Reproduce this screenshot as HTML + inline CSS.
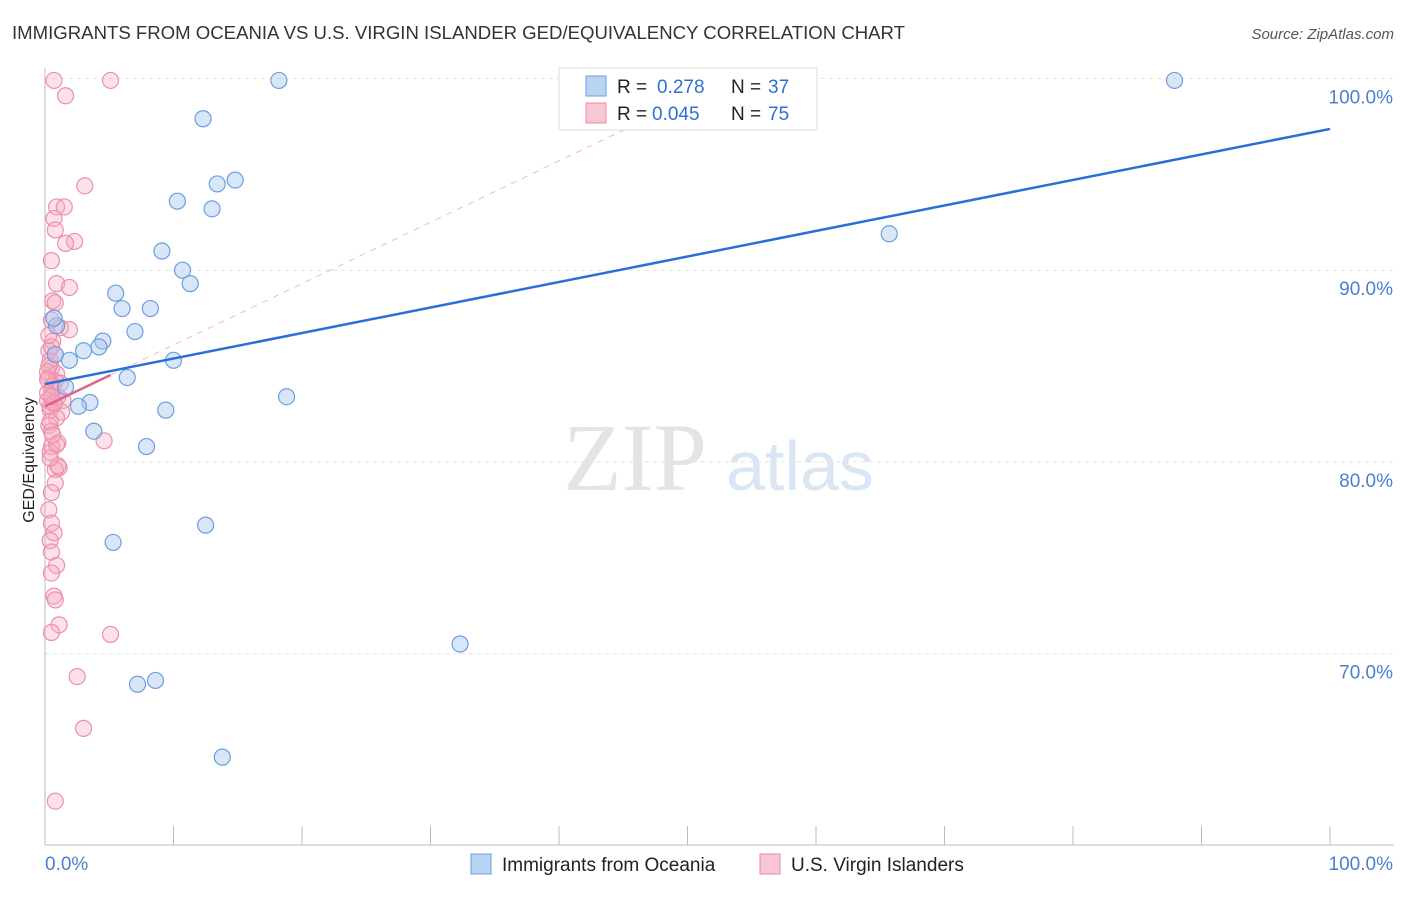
<!DOCTYPE html>
<html><head><meta charset="utf-8">
<style>
body{margin:0;background:#fff;font-family:"Liberation Sans",sans-serif;}
#wrap{position:relative;width:1406px;height:892px;}
</style></head>
<body><div id="wrap">
<svg id="svg" width="1406" height="892" xmlns="http://www.w3.org/2000/svg">
<text x="12" y="39" font-size="18" fill="#333" textLength="893" lengthAdjust="spacingAndGlyphs">IMMIGRANTS FROM OCEANIA VS U.S. VIRGIN ISLANDER GED/EQUIVALENCY CORRELATION CHART</text>
<text x="1394" y="39" font-size="15" fill="#555" font-style="italic" text-anchor="end">Source: ZipAtlas.com</text>
<text x="0" y="0" transform="translate(34,460) rotate(-90)" font-size="16" fill="#222" text-anchor="middle">GED/Equivalency</text>
<g><text x="635" y="490" font-size="96" fill="#e4e4e4" font-family="Liberation Serif" text-anchor="middle">ZIP</text><text x="800" y="490" font-size="70" fill="#dbe6f5" text-anchor="middle">atlas</text></g>
<g id="grid"></g><g id="axes"></g><g id="pts"></g><g id="lines"></g>
<g>
<rect x="559" y="68" width="258" height="62" fill="#fff" stroke="#ddd"/>
<rect x="586" y="76" width="20" height="20" fill="#b9d3f3" stroke="#6a9fe0"/>
<text x="617" y="93" font-size="19" fill="#222">R =</text><text x="657" y="93" font-size="19" fill="#2f6fd1">0.278</text>
<text x="731" y="93" font-size="19" fill="#222">N =</text><text x="768" y="93" font-size="19" fill="#2f6fd1">37</text>
<rect x="586" y="103" width="20" height="20" fill="#f9c7d4" stroke="#e88aa5"/>
<text x="617" y="120" font-size="19" fill="#222">R =</text><text x="652" y="120" font-size="19" fill="#2f6fd1">0.045</text>
<text x="731" y="120" font-size="19" fill="#222">N =</text><text x="768" y="120" font-size="19" fill="#2f6fd1">75</text>
</g>
<g>
<rect x="471" y="854" width="20" height="20" fill="#b9d3f3" stroke="#6a9fe0"/>
<text x="502" y="871" font-size="19" fill="#222">Immigrants from Oceania</text>
<rect x="760" y="854" width="20" height="20" fill="#f9c7d4" stroke="#e88aa5"/>
<text x="791" y="871" font-size="19" fill="#222">U.S. Virgin Islanders</text>
</g>
</svg></div>
<script>
const yTicks=[100,90,80,70];
const yTickLabels=["100.0%","90.0%","80.0%","70.0%"];
const xTickLabels=["0.0%","100.0%"];
const blueX=[18.2,87.9,12.3,14.8,13.4,10.3,13.0,9.1,10.7,11.3,65.7,5.5,6.0,8.2,7.0,4.5,4.2,3.0,0.8,1.9,10.0,6.4,18.8,3.5,2.6,9.4,3.8,7.9,12.5,5.3,32.3,7.2,8.6,13.8,0.9,0.7,1.6];
const blueY=[99.9,99.9,97.9,94.7,94.5,93.6,93.2,91.0,90.0,89.3,91.9,88.8,88.0,88.0,86.8,86.3,86.0,85.8,85.6,85.3,85.3,84.4,83.4,83.1,82.9,82.7,81.6,80.8,76.7,75.8,70.5,68.4,68.6,64.6,87.1,87.5,83.9];
const pinkX=[0.7,5.1,1.6,3.1,0.9,1.5,0.7,0.8,2.3,1.6,0.5,0.9,1.9,0.6,0.8,0.5,1.2,1.9,0.6,0.8,0.4,0.5,0.9,0.3,0.8,1.2,0.5,1.0,0.2,1.4,0.7,0.4,1.3,0.9,0.3,0.5,4.6,1.0,0.5,0.4,1.1,0.8,0.8,0.5,0.3,0.5,0.7,0.4,0.5,0.9,0.5,0.7,0.8,1.1,0.5,5.1,2.5,3.0,0.8,0.3,0.6,0.2,0.4,0.9,0.3,0.5,0.2,0.7,0.4,0.6,0.3,1.0,0.2,0.5,0.4];
const pinkY=[99.9,99.9,99.1,94.4,93.3,93.3,92.7,92.1,91.5,91.4,90.5,89.3,89.1,88.4,88.3,87.4,87.0,86.9,86.3,85.6,85.3,84.9,84.6,84.4,84.2,84.1,83.8,83.4,83.2,83.2,83.0,82.7,82.6,82.3,81.9,81.6,81.1,81.0,80.8,80.5,79.7,79.6,78.9,78.4,77.5,76.8,76.3,75.9,75.3,74.6,74.2,73.0,72.8,71.5,71.1,71.0,68.8,66.1,62.3,85.8,84.0,83.6,82.9,80.9,85.0,86.0,84.7,83.1,82.1,81.4,86.6,79.8,84.3,83.4,80.2];
const blueFit=[84.06,97.37];
const pinkFit=[82.9,0.32];
const X=v=>45+v*12.85, Y=v=>78.5+(100-v)*19.17;
const NS="http://www.w3.org/2000/svg";
function mk(tag,attrs,parent){const e=document.createElementNS(NS,tag);for(const k in attrs)e.setAttribute(k,attrs[k]);document.getElementById(parent).appendChild(e);return e;}
yTicks.forEach((t,i)=>{
 const g=mk('line',{x1:45,x2:1394,y1:Y(t),y2:Y(t),stroke:'#e2e2e2','stroke-dasharray':'4,4'},'grid');
 
 
 const l=mk('text',{x:1393,y:Y(t)+25,'font-size':19,fill:'#4a7fd0','text-anchor':'end'},'axes');l.textContent=yTickLabels[i];
 
 
});
mk('line',{x1:45,x2:45,y1:68,y2:845,stroke:'#bbb'},'axes');
mk('line',{x1:45,x2:1394,y1:845,y2:845,stroke:'#bbb'},'axes');
for(let i=0;i<=10;i++){const t=mk('line',{x1:X(i*10),x2:X(i*10),y1:826,y2:845,stroke:'#bbb'},'axes');
 
 }
let a=mk('text',{x:45,y:870,'font-size':19,fill:'#4a7fd0'},'axes');a.textContent=xTickLabels[0];


a=mk('text',{x:1393,y:870,'font-size':19,fill:'#4a7fd0','text-anchor':'end'},'axes');a.textContent=xTickLabels[1];


pinkX.forEach((x,i)=>{const c=mk('circle',{cx:X(x),cy:Y(pinkY[i]),r:8,fill:'rgba(245,170,192,0.35)',stroke:'#eb90ab','stroke-width':1.2},'pts');
 
 });
blueX.forEach((x,i)=>{const c=mk('circle',{cx:X(x),cy:Y(blueY[i]),r:8,fill:'rgba(170,200,240,0.45)',stroke:'#6a9fe0','stroke-width':1.2},'pts');
 
 });
const xe=(100-pinkFit[0])/pinkFit[1];
let d=mk('line',{x1:X(5.1),y1:Y(pinkFit[0]+pinkFit[1]*5.1),x2:X(xe),y2:Y(100),stroke:'#f0b8c8','stroke-dasharray':'6,6','stroke-width':1},'lines');


d=mk('line',{x1:X(0),y1:Y(pinkFit[0]),x2:X(5.1),y2:Y(pinkFit[0]+pinkFit[1]*5.1),stroke:'#e0628a','stroke-width':2.5},'lines');


d=mk('line',{x1:X(0),y1:Y(blueFit[0]),x2:X(100),y2:Y(blueFit[1]),stroke:'#2a6fd6','stroke-width':2.5},'lines');


</script></body></html>
